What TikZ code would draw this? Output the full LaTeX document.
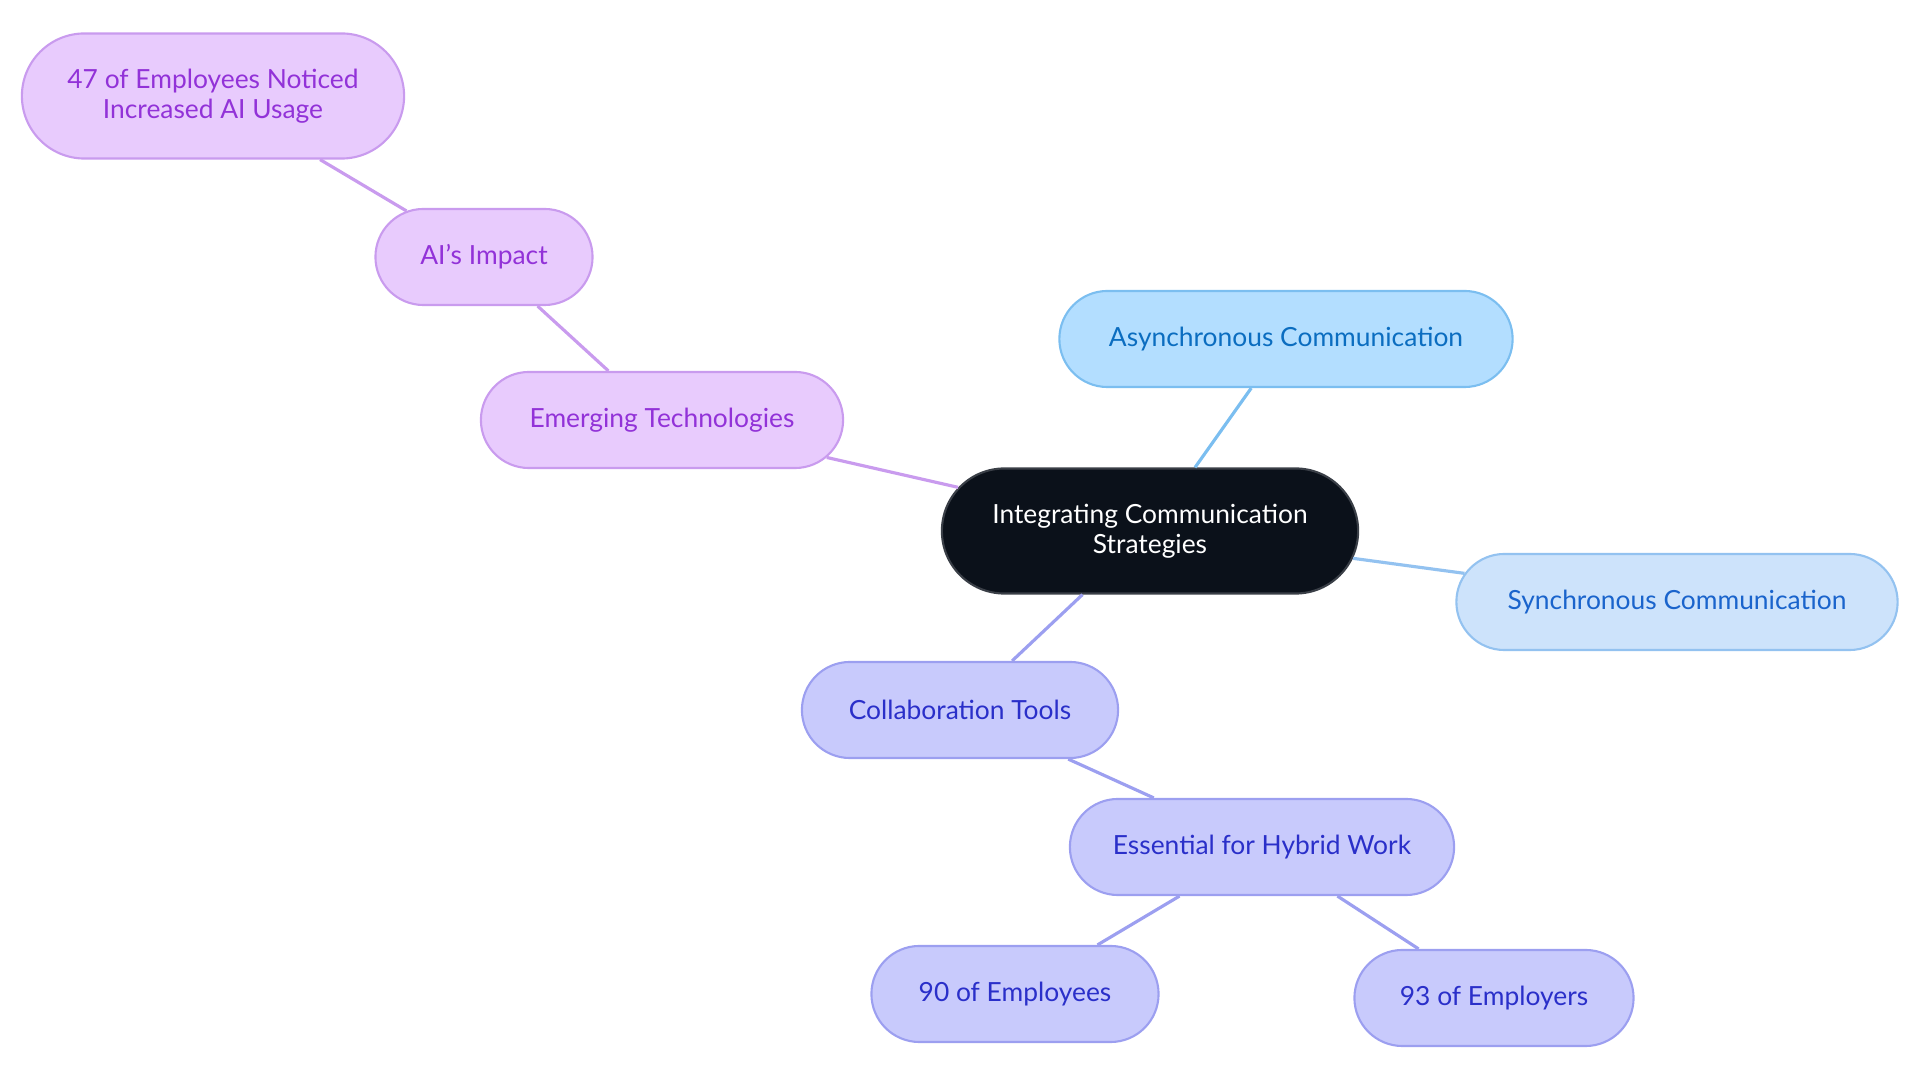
\documentclass[tikz,border=0pt]{standalone}
\usepackage{fontspec}
\setmainfont{Lato}
\usetikzlibrary{shapes.misc}
\definecolor{rootfill}{HTML}{0B111A}
\definecolor{rootdraw}{HTML}{3A3F47}
\definecolor{asyfill}{HTML}{B3DEFF}
\definecolor{asydraw}{HTML}{7BBEF0}
\definecolor{asytext}{HTML}{0B6DC0}
\definecolor{synfill}{HTML}{CDE3FB}
\definecolor{syndraw}{HTML}{93C2F0}
\definecolor{syntext}{HTML}{1A64CC}
\definecolor{purfill}{HTML}{E8CBFD}
\definecolor{purdraw}{HTML}{C99BEE}
\definecolor{purtext}{HTML}{9232D8}
\definecolor{indfill}{HTML}{C8CAFC}
\definecolor{inddraw}{HTML}{9C9FF0}
\definecolor{indtext}{HTML}{2A2FC9}
\begin{document}
\begin{tikzpicture}[x=0.01cm, y=-0.01cm]
    \tikzstyle{every node}=[align=center, font=\fontsize{7.5}{8.4}\selectfont];
    \tikzstyle{block} = [rounded rectangle, draw, line width=0.6pt, minimum height=0.96cm, inner sep=0pt]
    \tikzstyle{link} = [line width=0.9pt]

    \useasboundingbox (0,0) rectangle (1920,1083);

    \node[block, fill=rootfill, draw=rootdraw, text=white, minimum width=4.16cm, minimum height=1.25cm] (Root) at (1150,531) {Integrating Communication \\ Strategies};
    \node[block, fill=asyfill, draw=asydraw, text=asytext, minimum width=4.53cm] (Async) at (1286,339) {Asynchronous Communication};
    \node[block, fill=synfill, draw=syndraw, text=syntext, minimum width=4.41cm] (Sync) at (1677,602) {Synchronous Communication};
    \node[block, fill=purfill, draw=purdraw, text=purtext, minimum width=3.62cm] (Emerging) at (662,420) {Emerging Technologies};
    \node[block, fill=purfill, draw=purdraw, text=purtext, minimum width=2.17cm] (AIImpact) at (484,257) {AI's Impact};
    \node[block, fill=purfill, draw=purdraw, text=purtext, minimum width=3.82cm, minimum height=1.25cm] (AIUsage) at (213,96) {47 of Employees Noticed \\ Increased AI Usage};
    \node[block, fill=indfill, draw=inddraw, text=indtext, minimum width=3.16cm] (Collab) at (960,710) {Collaboration Tools};
    \node[block, fill=indfill, draw=inddraw, text=indtext, minimum width=3.84cm] (Hybrid) at (1262,847) {Essential for Hybrid Work};
    \node[block, fill=indfill, draw=inddraw, text=indtext, minimum width=2.87cm] (Employees) at (1015,994) {90 of Employees};
    \node[block, fill=indfill, draw=inddraw, text=indtext, minimum width=2.79cm] (Employers) at (1494,998) {93 of Employers};

    \draw[link, draw=asydraw] (Root) -- (Async);
    \draw[link, draw=syndraw] (Root) -- (Sync);
    \draw[link, draw=purdraw] (Root) -- (Emerging);
    \draw[link, draw=purdraw] (Emerging) -- (AIImpact);
    \draw[link, draw=purdraw] (AIImpact) -- (AIUsage);
    \draw[link, draw=inddraw] (Root) -- (Collab);
    \draw[link, draw=inddraw] (Collab) -- (Hybrid);
    \draw[link, draw=inddraw] (Hybrid) -- (Employees);
    \draw[link, draw=inddraw] (Hybrid) -- (Employers);

\end{tikzpicture}
\end{document}
